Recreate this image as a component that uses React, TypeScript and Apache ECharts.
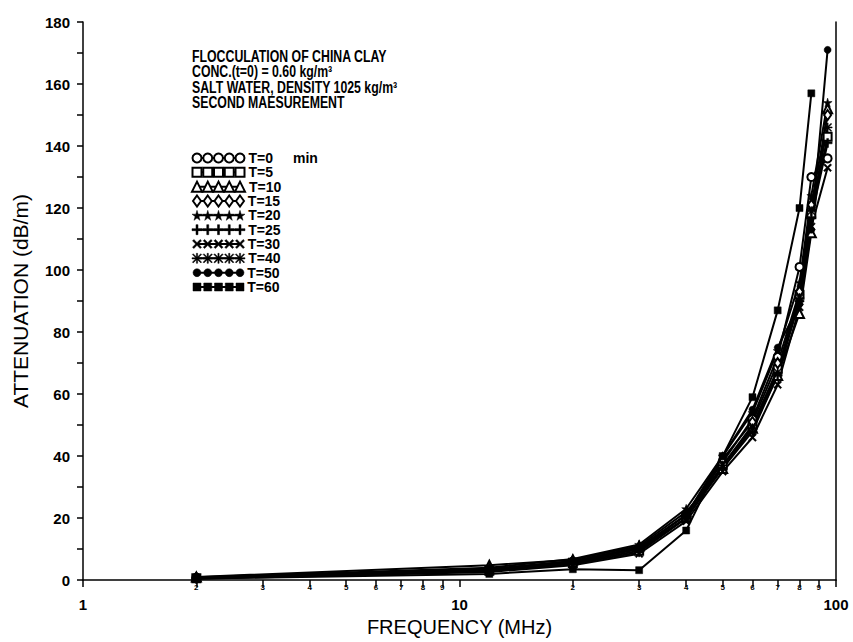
import React, { useEffect, useRef } from "react";
import * as echarts from "echarts";

// ---- data ----
const FREQ = [2, 12, 20, 30, 40, 50, 60, 70, 80, 86, 95];
const SERIES_NAMES = ["T=0", "T=5", "T=10", "T=15", "T=20", "T=25", "T=30", "T=40", "T=50", "T=60"];
const T0 = [0.8, 3.5, 6.0, 10.0, 21, 38, 52, 72, 101, 130, 136];
const T5 = [0.6, 3.0, 5.5, 9.5, 20, 37, 50, 68, 92, 118, 143];
const T10 = [1.0, 4.8, 6.6, 11.0, 22, 36, 49, 66, 86, 112, 152];
const T15 = [0.7, 3.4, 6.0, 10.5, 21, 39, 51, 70, 93, 121, 150];
const T20 = [0.9, 4.0, 6.8, 11.5, 23, 40, 54, 74, 96, 124, 154];
const T25 = [0.5, 3.0, 5.2, 9.0, 20, 36, 48, 66, 90, 117, 141];
const T30 = [0.4, 2.6, 4.8, 8.5, 19, 35, 46, 63, 88, 114, 133];
const T40 = [0.6, 3.2, 5.8, 10.0, 20, 37, 49, 67, 91, 119, 146];
const T50 = [0.7, 3.6, 6.2, 10.5, 21, 40, 55, 75, 89, 113, 171];
const T60 = [0.5, 2.0, 3.5, 3.2, 16, 40, 59, 87, 120, 157, null];
const VALUES = [T0, T5, T10, T15, T20, T25, T30, T40, T50, T60];

const Y_TICKS_MIN = 0;
const Y_TICKS_MAX = 180;
const X_MAJOR = [1, 10, 100];
const X_MINOR = [2, 3, 4, 5, 6, 7, 8, 9, 20, 30, 40, 50, 60, 70, 80, 90];

const ANNOTATION = [
  "FLOCCULATION OF CHINA CLAY",
  "CONC.(t=0) = 0.60 kg/m³",
  "SALT WATER, DENSITY 1025 kg/m³",
  "SECOND MAESUREMENT",
];

// ---- symbols ----
const STAR = "path://M50,0 L61,35 L98,35 L68,57 L79,91 L50,70 L21,91 L32,57 L2,35 L39,35 Z";
const PLUS = "path://M40,0H60V40H100V60H60V100H40V60H0V40H40Z";
const CROSS = "path://M15,0L50,35L85,0L100,15L65,50L100,85L85,100L50,65L15,100L0,85L35,50L0,15Z";
const ASTER =
  "path://M44,0H56V44H100V56H56V100H44V56H0V44H44Z M12,4L50,42L88,4L96,12L58,50L96,88L88,96L50,58L12,96L4,88L42,50L4,12Z";
const SYMBOLS = [
  "emptyCircle",
  "emptyRect",
  "emptyTriangle",
  "emptyDiamond",
  STAR,
  PLUS,
  CROSS,
  ASTER,
  "circle",
  "rect",
];
const SIZES: any[] = [8, 8, 9, [7, 10], 9, 9, 8, 9, 7, 7];

const TICK_FONT = "'Liberation Sans', Arial, sans-serif";

export default function App() {
  const ref = useRef<HTMLDivElement>(null);

  useEffect(() => {
    if (!ref.current) return;
    const chart = echarts.init(ref.current, null, { renderer: "svg" });
    const black = "#000";

    const mainSeries = VALUES.map((vals, k) => ({
      name: SERIES_NAMES[k],
      type: "line",
      xAxisIndex: 0,
      yAxisIndex: 0,
      data: FREQ.map((f, i) => [f, vals[i]]).filter((p) => p[1] !== null),
      symbol: SYMBOLS[k],
      symbolSize: SIZES[k],
      showAllSymbol: true,
      lineStyle: { color: black, width: 2 },
      itemStyle: { color: black, borderColor: black, borderWidth: k < 4 ? 1.8 : 0.5 },
      z: 3,
    }));

    const legendSeries = SERIES_NAMES.map((name, k) => ({
      name: "legend-" + name,
      type: "line",
      xAxisIndex: 2,
      yAxisIndex: 2,
      data: [0, 1, 2, 3, 4].map((x) =>
        x === 4
          ? {
              value: [x, k],
              label: {
                show: true,
                position: "right",
                distance: 3,
                formatter: name,
                color: black,
                fontFamily: TICK_FONT,
                fontWeight: "bold",
                fontSize: 14,
              },
            }
          : { value: [x, k] }
      ),
      symbol: SYMBOLS[k],
      symbolSize: Array.isArray(SIZES[k]) ? [8, 11] : (SIZES[k] as number) + 1,
      showAllSymbol: true,
      lineStyle: { color: black, width: 2 },
      itemStyle: { color: black, borderColor: black, borderWidth: k < 4 ? 2 : 0.5 },
      silent: true,
    }));

    const axisLineStyle = { color: black, width: 1.5 };

    const option: any = {
      animation: false,
      backgroundColor: "#fff",
      grid: [
        { left: 83, right: 17, top: 22, bottom: 61 },
        { left: 197, top: 158, width: 43, height: 129 },
      ],
      xAxis: [
        {
          gridIndex: 0,
          type: "log",
          logBase: 10,
          min: 1,
          max: 100,
          position: "bottom",
          name: "FREQUENCY (MHz)",
          nameLocation: "middle",
          nameGap: 35,
          nameTextStyle: { color: black, fontFamily: TICK_FONT, fontSize: 20 },
          axisLine: { show: true, onZero: false, lineStyle: axisLineStyle },
          axisTick: { show: true, length: 7, customValues: X_MAJOR, lineStyle: axisLineStyle },
          axisLabel: {
            customValues: X_MAJOR,
            margin: 17,
            color: black,
            fontFamily: TICK_FONT,
            fontWeight: "bold",
            fontSize: 15,
          },
          splitLine: { show: false },
          minorTick: { show: false },
        },
        {
          gridIndex: 0,
          type: "log",
          logBase: 10,
          min: 1,
          max: 100,
          position: "bottom",
          axisLine: { show: false },
          axisTick: { show: true, length: 7, customValues: X_MINOR, lineStyle: axisLineStyle },
          axisLabel: {
            customValues: X_MINOR,
            margin: 3,
            formatter: (v: number) => String(v).charAt(0),
            color: black,
            fontFamily: TICK_FONT,
            fontWeight: "bold",
            fontSize: 8,
          },
          splitLine: { show: false },
        },
        { gridIndex: 1, type: "value", min: 0, max: 4, show: false },
      ],
      yAxis: [
        {
          gridIndex: 0,
          type: "value",
          min: Y_TICKS_MIN,
          max: Y_TICKS_MAX,
          interval: 20,
          name: "ATTENUATION (dB/m)",
          nameLocation: "middle",
          nameGap: 52,
          nameTextStyle: { color: black, fontFamily: TICK_FONT, fontSize: 21 },
          axisLine: { show: true, onZero: false, lineStyle: axisLineStyle },
          axisTick: { show: true, length: 6, lineStyle: axisLineStyle },
          minorTick: { show: true, splitNumber: 2, length: 6, lineStyle: axisLineStyle },
          axisLabel: {
            margin: 13,
            color: black,
            fontFamily: TICK_FONT,
            fontWeight: "bold",
            fontSize: 15,
          },
          splitLine: { show: false },
        },
        {
          gridIndex: 0,
          type: "value",
          min: Y_TICKS_MIN,
          max: Y_TICKS_MAX,
          position: "right",
          axisLine: { show: true, onZero: false, lineStyle: axisLineStyle },
          axisTick: { show: false },
          axisLabel: { show: false },
          splitLine: { show: false },
        },
        { gridIndex: 1, type: "value", min: 0, max: 9, inverse: true, show: false },
      ],
      series: [...mainSeries, ...legendSeries],
      graphic: [
        {
          type: "group",
          x: 192,
          y: 48,
          scaleX: 0.77,
          children: ANNOTATION.map((line, i) => ({
            type: "text",
            x: 0,
            y: i * 15.6,
            style: {
              text: line,
              fill: black,
              fontFamily: TICK_FONT,
              fontWeight: "bold",
              fontSize: 16,
            },
          })),
        },
        {
          type: "text",
          left: 293,
          top: 151,
          style: {
            text: "min",
            fill: black,
            fontFamily: TICK_FONT,
            fontWeight: "bold",
            fontSize: 14,
          },
        },
      ],
    };

    chart.setOption(option);
    return () => chart.dispose();
  }, []);

  return (
    <div
      ref={ref}
      style={{ position: "fixed", left: 0, top: 0, width: 853, height: 642 }}
    />
  );
}
